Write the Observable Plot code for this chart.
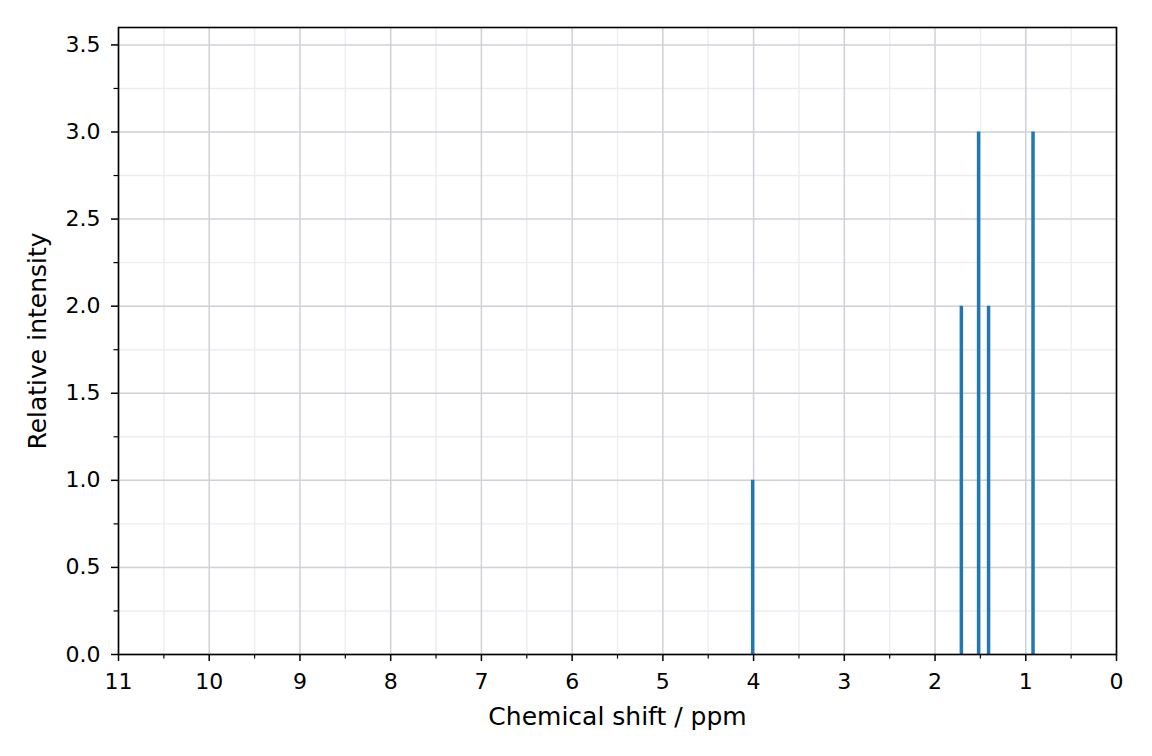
<!DOCTYPE html>
<html>
<head>
<meta charset="utf-8">
<script src="https://cdn.jsdelivr.net/npm/d3@7"></script>
<script src="https://cdn.jsdelivr.net/npm/@observablehq/plot@0.6"></script>
<style>
  html, body { margin: 0; padding: 0; background: #fff; }
  svg { font-family: "DejaVu Sans", sans-serif; }
</style>
</head>
<body>
<div id="chart"></div>
<script>
// Peaks (chemical shift in ppm, relative intensity)
const shifts = [4.01, 1.71, 1.52, 1.41, 0.92];
const intensities = [1, 2, 3, 2, 3];

// Tick positions
const xMajorTicks = [0, 1, 2, 3, 4, 5, 6, 7, 8, 9, 10, 11];
const xMinorTicks = [0.5, 1.5, 2.5, 3.5, 4.5, 5.5, 6.5, 7.5, 8.5, 9.5, 10.5];
const yMajorTicks = [0, 0.5, 1.0, 1.5, 2.0, 2.5, 3.0, 3.5];
const yMinorTicks = [0.25, 0.75, 1.25, 1.75, 2.25, 2.75, 3.25];

const xLabel = "Chemical shift / ppm";
const yLabel = "Relative intensity";

const peaks = shifts.map((s, i) => ({shift: s, intensity: intensities[i]}));

const majorGrid = "#d0d0d8";
const minorGrid = "#ededf2";
const tickFont = 22;
const labelFont = 25;

const chart = Plot.plot({
  width: 1152,
  height: 756,
  marginLeft: 118,
  marginRight: 36,
  marginTop: 27,
  marginBottom: 102,
  style: {fontFamily: "DejaVu Sans, sans-serif", fontSize: tickFont + "px", color: "black"},
  x: {domain: [11, 0]},
  y: {domain: [0, 3.6]},
  marks: [
    Plot.gridX(xMinorTicks, {stroke: minorGrid, strokeOpacity: 1, strokeWidth: 1.4}),
    Plot.gridY(yMinorTicks, {stroke: minorGrid, strokeOpacity: 1, strokeWidth: 1.4}),
    Plot.gridX(xMajorTicks, {stroke: majorGrid, strokeOpacity: 1, strokeWidth: 1.5}),
    Plot.gridY(yMajorTicks, {stroke: majorGrid, strokeOpacity: 1, strokeWidth: 1.5}),
    Plot.ruleX(peaks, {x: "shift", y1: 0, y2: "intensity", stroke: "#1f77b4", strokeWidth: 3.5}),
    Plot.axisX(xMajorTicks, {tickSize: 7, tickPadding: 12, fontSize: tickFont, stroke: "black", strokeWidth: 1.5, fill: "black", tickFormat: d => String(d), label: null}),
    Plot.axisX(xMinorTicks, {tickSize: 4.5, text: null, stroke: "black", strokeWidth: 1.2, label: null}),
    Plot.axisY(yMajorTicks, {tickSize: 7, tickPadding: 11, fontSize: tickFont, stroke: "black", strokeWidth: 1.5, fill: "black", tickFormat: d => d.toFixed(1), label: null}),
    Plot.axisY(yMinorTicks, {tickSize: 4.5, text: null, stroke: "black", strokeWidth: 1.2, label: null}),
    Plot.frame({stroke: "black", strokeWidth: 1.6}),
    Plot.text([xLabel], {frameAnchor: "bottom", text: d => d, dy: 62, textAnchor: "middle", lineAnchor: "middle", fontSize: labelFont, fill: "black"}),
    Plot.text([yLabel], {frameAnchor: "left", text: d => d, dx: -81, rotate: -90, textAnchor: "middle", lineAnchor: "middle", fontSize: labelFont, fill: "black"})
  ]
});
document.getElementById("chart").appendChild(chart);
</script>
</body>
</html>
